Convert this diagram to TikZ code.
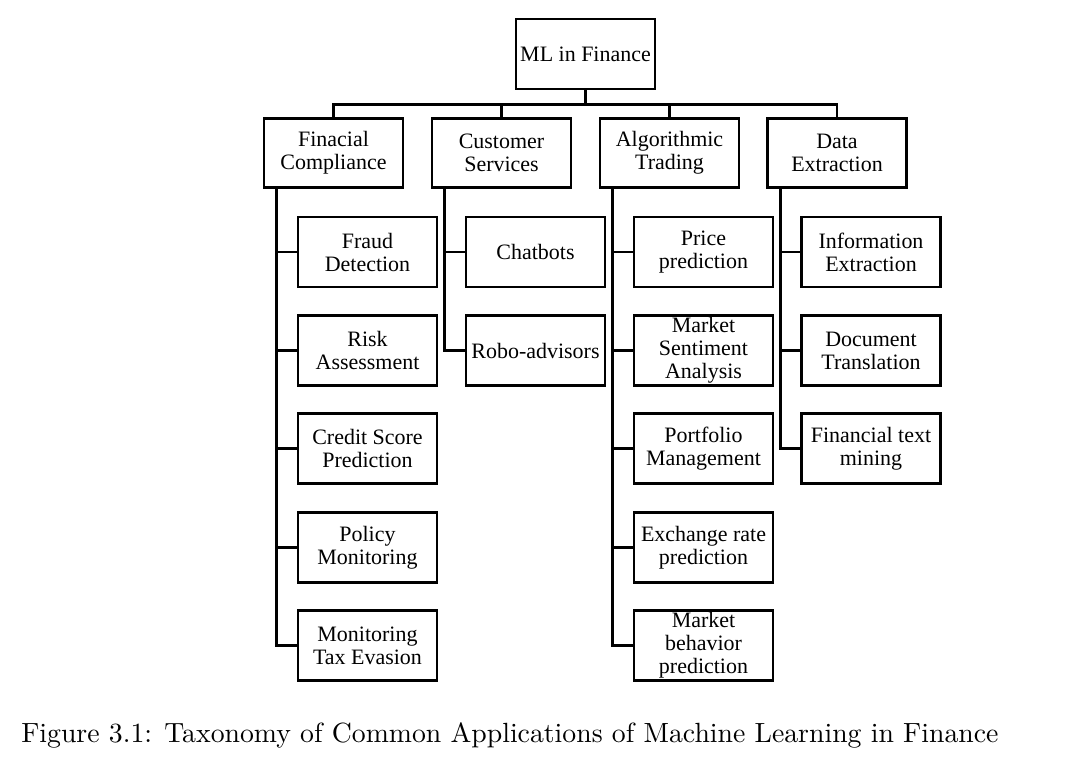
\documentclass[tikz,border=0pt]{standalone}
\usepackage{fontspec}
\newfontfamily\boxfont{Liberation Serif}
\newfontfamily\capfont{lmroman10-regular.otf}
\usetikzlibrary{positioning}

\begin{document}
\begin{tikzpicture}[
    line width=1.5pt,
    topic/.style={draw, line width=1.5pt, align=center, minimum width=2.78cm,
        minimum height=1.38cm, inner xsep=1pt, inner ysep=0pt,
        font=\boxfont\fontsize{12.5}{13.1}\selectfont},
    leaf/.style={topic, minimum height=1.4cm}
]
    \useasboundingbox (0,0) rectangle (21.3,-15.2);

    %% Root
    \node[topic, minimum height=1.4cm] (root) at (11.71,-1.08) {ML in Finance};

    %% Main branches
    \node[topic] (comp) at (6.67,-3.06) {Finacial\\Compliance};
    \node[topic] (cust) at (10.03,-3.06) {Customer\\Services};
    \node[topic] (algo) at (13.39,-3.06) {Algorithmic\\Trading};
    \node[topic] (data) at (16.74,-3.06) {Data\\Extraction};

    % Bus from root to branches
    \draw (root.south) -- ++(0,-0.28) coordinate (bus);
    \draw (bus) -| (comp.north);
    \draw (bus) -| (cust.north);
    \draw (bus) -| (algo.north);
    \draw (bus) -| (data.north);

    %% Financial compliance
    \node[leaf] (fraud) at (7.35,-5.04) {Fraud\\Detection};
    \node[leaf] (risk) at (7.35,-7.01) {Risk\\Assessment};
    \node[leaf] (credit) at (7.35,-8.97) {Credit Score\\Prediction};
    \node[leaf] (policy) at (7.35,-10.95) {Policy\\Monitoring};
    \node[leaf] (tax) at (7.35,-12.91) {Monitoring\\Tax Evasion};

    \draw ([xshift=0.28cm]comp.south west) |- (fraud.west);
    \draw ([xshift=0.28cm]comp.south west) |- (risk.west);
    \draw ([xshift=0.28cm]comp.south west) |- (credit.west);
    \draw ([xshift=0.28cm]comp.south west) |- (policy.west);
    \draw ([xshift=0.28cm]comp.south west) |- (tax.west);

    %% Customer services
    \node[leaf] (chat) at (10.71,-5.04) {Chatbots};
    \node[leaf] (robo) at (10.71,-7.01) {Robo-advisors};

    \draw ([xshift=0.28cm]cust.south west) |- (chat.west);
    \draw ([xshift=0.28cm]cust.south west) |- (robo.west);

    %% Algorithmic trading
    \node[leaf] (price) at (14.07,-5.04) {Price\\prediction};
    \node[leaf] (senti) at (14.07,-7.01) {Market\\Sentiment\\Analysis};
    \node[leaf] (port) at (14.07,-8.97) {Portfolio\\Management};
    \node[leaf] (exch) at (14.07,-10.95) {Exchange rate\\prediction};
    \node[leaf] (behav) at (14.07,-12.91) {Market\\behavior\\prediction};

    \draw ([xshift=0.28cm]algo.south west) |- (price.west);
    \draw ([xshift=0.28cm]algo.south west) |- (senti.west);
    \draw ([xshift=0.28cm]algo.south west) |- (port.west);
    \draw ([xshift=0.28cm]algo.south west) |- (exch.west);
    \draw ([xshift=0.28cm]algo.south west) |- (behav.west);

    %% Data extraction
    \node[leaf] (info) at (17.42,-5.04) {Information\\Extraction};
    \node[leaf] (trans) at (17.42,-7.01) {Document\\Translation};
    \node[leaf] (mining) at (17.42,-8.97) {Financial text\\mining};

    \draw ([xshift=0.28cm]data.south west) |- (info.west);
    \draw ([xshift=0.28cm]data.south west) |- (trans.west);
    \draw ([xshift=0.28cm]data.south west) |- (mining.west);

    % Caption
    \node[anchor=base west, inner sep=0pt, font=\capfont\fontsize{15.8}{18}\selectfont] (caption) at (0.4,-14.84)
        {Figure 3.1: Taxonomy of Common Applications of Machine Learning in Finance};

\end{tikzpicture}
\end{document}
